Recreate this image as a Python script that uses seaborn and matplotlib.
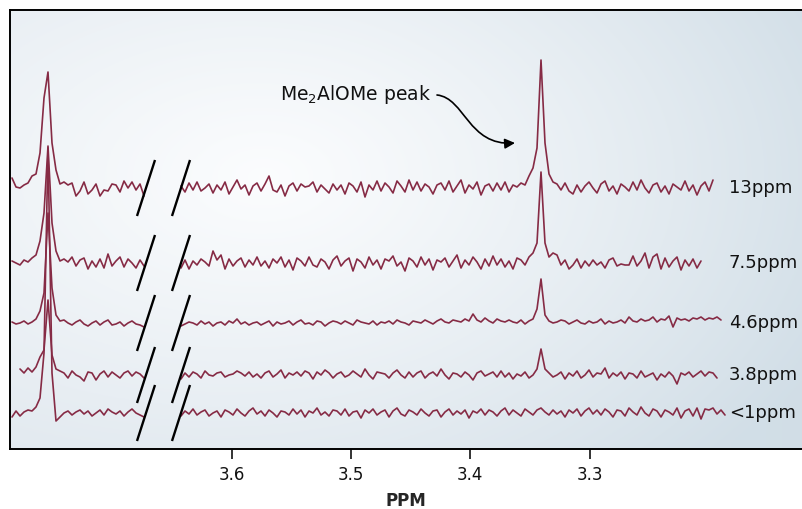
import numpy as np
import matplotlib
matplotlib.use("Agg")
import matplotlib.pyplot as plt
from matplotlib.path import Path
from matplotlib.patches import FancyArrowPatch
import seaborn as sns

# Spectra (heights above each baseline)
labels = ["13ppm", "7.5ppm", "4.6ppm", "3.8ppm", "<1ppm"]
offsets = [261, 186, 126, 74, 36]

left_13 = [10, 1, 0, 3, 5, 12, 14, 35, 90, 116, 45, 18, 4, 6, 3, 5, -8, -3, 6, -6,
           -2, 4, -8, -2, -3, 4, 3, -4, 7, 0, 6, -2, 4, -8]
right_13 = [2, -4, 5, -2, 6, -3, 0, 4, -5, 3, -2, 6, -6, 1, 8, -1, 3, -7, 2, 5,
            -3, 4, 12, -2, -4, 3, -8, 2, 5, -3, 4, 1, 2, 6, -4, 3, -1, -5, 4, -2,
            3, -6, 5, 2, -4, 6, -9, 3, -2, 7, -3, 5, 1, -5, 7, 2, -4, 8, -2, 6,
            -3, 4, 1, -6, 3, 5, -2, 7, -4, 2, 8, -5, 3, -1, 6, -7, 2, 4, -3, 5,
            -2, 6, -4, 3, 1, 5, 3, 12, 20, 40, 128, 45, 14, 6, 4, -2, 5, -3, -6, 3,
            -4, 2, 6, 0, -5, 4, 7, -3, 2, -6, 4, 1, -3, 6, -2, 8, 0, -5, 3, 5,
            -4, 2, -6, 4, 1, -2, 7, -3, 3, -7, 2, 6, -3, 8]

left_75 = [2, 0, -2, 3, 1, 5, 8, 22, 50, 117, 40, 12, 2, 4, 1, 6, -3, 3, 5, -6,
           2, -4, 4, -5, 9, -3, 2, 6, -4, 4, 0, -5, 3, -3]
right_75 = [-5, 3, -6, 2, -2, 4, 1, -3, 12, 3, 8, -6, 4, -3, 2, 5, -4, 3, -2, 6,
            -3, 2, -5, 4, 0, 6, -4, 3, -7, 5, 2, -3, 6, -2, -4, 4, 1, -6, 3, 7,
            -3, 2, 5, -8, 4, 1, -5, 6, -2, 3, -6, 4, 2, 7, -3, 1, -8, 5, 2, -4,
            6, -2, 4, -7, 3, 1, 5, -4, 2, 8, -5, 3, -2, 6, 1, -6, 4, -3, 7, -2,
            4, -4, 2, -6, 5, 3, -2, 6, 10, 20, 91, 20, 6, 10, 8, -2, 3, -6, -2, 4,
            -5, 2, -3, 3, -2, 1, -5, 3, 5, -3, -1, -2, -2, 7, -3, 2, 10, -5, 6, 9,
            -6, 5, -4, 2, 6, -7, 3, -3, 4, -5, 2]

left_46 = [1, -1, 0, 2, -1, 1, 4, 12, 30, 110, 35, 8, 2, 3, 0, -2, 1, 3, -1, -3,
           0, 2, -2, 1, 3, -2, -1, 1, -3, 0, 2, -1, -2, -4]
right_46 = [-3, -1, 1, 0, -2, 2, -1, 1, -3, 0, 1, -2, 2, 0, 4, -1, 1, -2, 0, 1,
            -2, 0, 2, -3, 1, -1, 0, 2, -2, 1, 3, -1, 0, -2, 2, 1, -3, 0, 2, 1,
            -1, 2, 0, -2, 3, 1, 0, -1, 2, -2, 1, 0, 2, -1, 3, 1, 0, -2, 2, 1,
            0, 3, 1, -1, 2, 4, 1, 0, 3, 2, 1, 4, 2, 9, 3, 1, 5, 2, 0, 4,
            2, 1, 3, 1, 0, 3, -1, 2, 4, 14, 44, 8, 2, 0, 1, 3, 2, -1, 1, 3,
            0, -1, 2, 0, 1, 4, -1, 2, 0, 1, 3, 0, 6, 2, 1, 4, 2, 3, 6, 1,
            4, 3, 7, -4, 5, 3, 4, 2, 5, 4, 6, 3, 5, 4, 6, 3]

left_38 = [np.nan, np.nan, 6, 2, 7, 3, 8, 18, 25, 75, 20, 6, 4, 2, -3, 4, 0, -2, -6, 3,
           2, -5, 1, 4, -2, 3, 0, -3, 2, 4, -1, 3, 1, -3]
right_38 = [-4, 2, -2, 3, 1, -3, 4, 0, -1, 2, 3, -2, 0, 1, 4, 2, -1, 3, -2, 1,
            -3, 2, 4, -2, 1, 5, -3, 2, 0, 3, -1, 4, 2, -4, 3, 0, 5, 2, -3, 1,
            3, -2, 0, 4, 1, -2, 6, 0, -4, 3, 2, 1, -3, 2, 5, 0, -3, 3, -2, 2,
            4, -3, 1, 3, -1, 6, 0, -4, 2, 1, -2, 3, 0, -5, 2, 4, -1, 1, 3, -2,
            4, -2, 2, -4, 1, -1, 3, -3, 0, 6, 26, 6, 2, -2, 0, 3, -4, 2, -1, 4,
            -3, 0, 5, -2, 2, 1, 7, -3, 2, -1, 3, -4, 2, 1, -3, 4, -2, 0, 2, -5,
            1, -2, 3, -1, -9, 2, 0, 3, -2, 1, 4, -1, 3, 2, -3]

left_1 = [-4, 2, -3, 1, 3, 2, 6, 15, 60, 265, 40, -8, -4, 0, 2, -2, 1, 3, -1, 2,
          -3, 0, 3, -2, 4, 1, -1, 2, -3, 1, 4, 0, -2, -4]
right_1 = [-3, 2, -1, 4, -2, 1, 3, -3, 0, 2, -4, 3, 1, -2, 4, 0, -3, 2, 5, -1,
           2, -3, 3, 0, -4, 2, 1, -2, 4, -1, 3, -4, 2, 0, 5, -2, 1, -3, 3, 2,
           -2, 4, -3, 1, 2, -5, 3, 0, 4, -2, 1, 3, -4, 2, 5, -1, -3, 3, 1, -2,
           4, 0, -3, 2, 3, -4, 1, 4, -2, 2, -1, 3, -5, 2, 0, 4, -2, 3, 1, -3,
           2, 5, -2, 3, 0, -3, 4, 1, -2, 3, 5, 1, -2, 3, -1, 2, -4, 3, 0, 4,
           -3, 2, 5, -1, 3, -2, 4, 1, -4, 3, 2, -3, 5, 1, -2, 6, 0, -3, 4, 2,
           -4, 3, 1, -2, 5, -5, 2, 4, -3, 5, -6, 4, 3, 5, -1, 3, -2]

left_sets = [left_13, left_75, left_46, left_38, left_1]
right_sets = [right_13, right_75, right_46, right_38, right_1]
ticks = [3.6, 3.5, 3.4, 3.3]

line_color = "#862b45"


def px2ppm(px):
    # horizontal pixel position -> chemical shift
    return 3.6 - (px - 231.7) / 1193.0


step = 4 / 1193.0
left_start = px2ppm(12)
right_start = px2ppm(181)

sns.set_style("white")
plt.rcParams["font.family"] = ["DejaVu Sans"]
plt.rcParams["mathtext.default"] = "regular"

fig = plt.figure(figsize=(8.02, 5.09), dpi=100)
ax = fig.add_axes([10 / 802, 60 / 509, 792 / 802, 439 / 509])
x_lo, x_hi = px2ppm(10), px2ppm(802)
ax.set_xlim(x_lo, x_hi)
ax.set_ylim(0, 439)

# background gradient
u = np.linspace(0, 1, 400)
v = np.linspace(0, 1, 250)
U, V = np.meshgrid(u, v)
t = np.clip(np.sqrt(((U - 0.32) / 0.8) ** 2 + ((V - 0.62) / 0.9) ** 2), 0, 1) ** 1.1
centre = np.array([0.985, 0.99, 0.995])
edge_l = np.array([0.86, 0.895, 0.925])
edge_r = np.array([0.82, 0.87, 0.905])
edge = edge_l[None, None, :] * (1 - U[..., None]) + edge_r[None, None, :] * U[..., None]
img = centre[None, None, :] * (1 - t[..., None]) + edge * t[..., None]
ax.imshow(img, extent=(x_lo, x_hi, 0, 439), origin="lower", aspect="auto", zorder=0)

for lab, off, lv, rv in zip(labels, offsets, left_sets, right_sets):
    lx = np.linspace(left_start, left_start - step * (len(lv) - 1), len(lv))
    rx = np.linspace(right_start, right_start - step * (len(rv) - 1), len(rv))
    ly = np.array(lv, dtype=float) + off
    ry = np.array(rv, dtype=float) + off
    sns.lineplot(x=lx, y=ly, ax=ax, color=line_color, linewidth=1.2, sort=False,
                 estimator=None, zorder=3)
    sns.lineplot(x=rx, y=ry, ax=ax, color=line_color, linewidth=1.2, sort=False,
                 estimator=None, zorder=3)
    # axis-break slashes
    for a, b in [(137, 155), (172, 190)]:
        ax.plot([px2ppm(a), px2ppm(b)], [off - 28, off + 28], color="black", lw=1.7,
                zorder=4, solid_capstyle="butt")
    ax.text(px2ppm(729), off, lab, fontsize=13, va="center", ha="left", color="#111111")

# annotation
ax.text(px2ppm(280), 449 - 95, "Me$_2$AlOMe peak", fontsize=13.5, va="center", ha="left",
        color="#111111")
pts = [(437, 95), (465, 98), (468, 146), (515, 143)]
verts = [(px2ppm(px), 449 - py) for px, py in pts]
path = Path(verts, [Path.MOVETO, Path.CURVE4, Path.CURVE4, Path.CURVE4])
arrow = FancyArrowPatch(path=path, arrowstyle="-|>,head_length=6,head_width=3",
                        color="black", lw=1.2, zorder=5)
ax.add_patch(arrow)

ax.set_xticks(ticks)
ax.set_xticklabels([f"{v:.1f}" for v in ticks])
ax.set_yticks([])
ax.tick_params(axis="x", direction="out", length=7, width=1.2, labelsize=12, pad=5,
               bottom=True, colors="#111111")
for s in ["top", "left", "bottom"]:
    ax.spines[s].set_visible(True)
    ax.spines[s].set_linewidth(1.4)
    ax.spines[s].set_color("black")
ax.spines["right"].set_visible(False)
ax.set_xlabel("PPM", fontsize=12, fontweight="bold", labelpad=6)
ax.set_ylabel("")

fig.savefig("out.png", dpi=100, facecolor="white")
